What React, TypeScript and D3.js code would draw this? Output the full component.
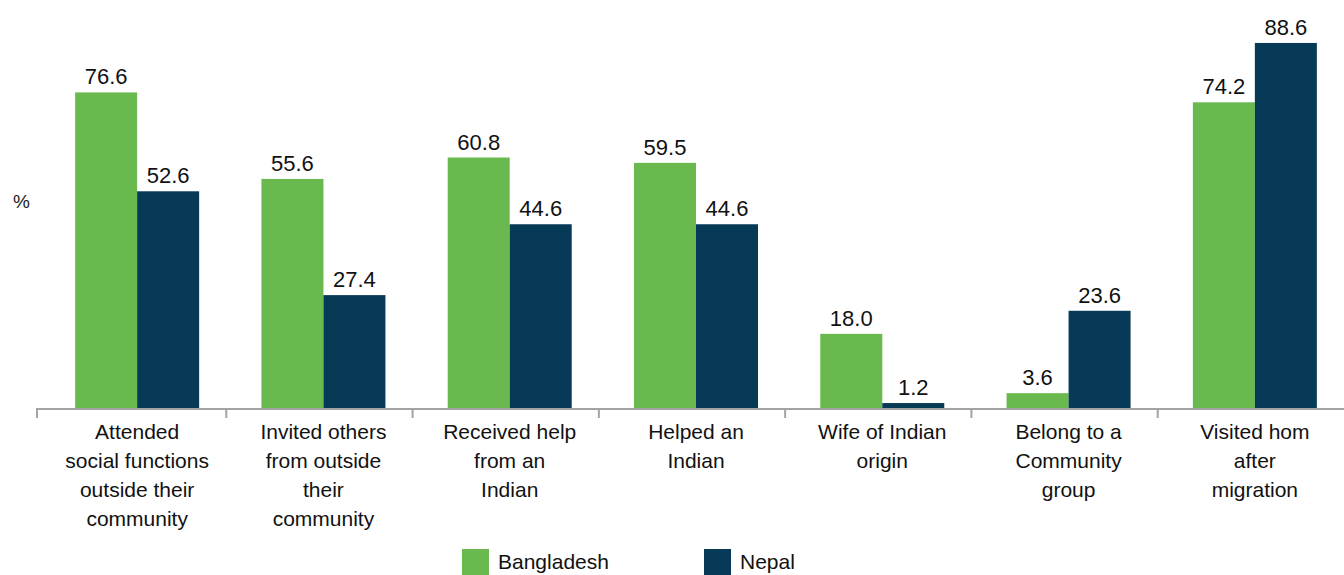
import React from "react";
import * as d3 from "d3";

const categories = [
  ["Attended", "social functions", "outside their", "community"],
  ["Invited others", "from outside", "their", "community"],
  ["Received help", "from an", "Indian"],
  ["Helped an", "Indian"],
  ["Wife of Indian", "origin"],
  ["Belong to a", "Community", "group"],
  ["Visited hom", "after", "migration"],
];
const seriesNames = ["Bangladesh", "Nepal"];
const bangladesh = [76.6, 55.6, 60.8, 59.5, 18.0, 3.6, 74.2];
const nepal = [52.6, 27.4, 44.6, 44.6, 1.2, 23.6, 88.6];
const colors = ["#6ab94f", "#063a57"];

const W = 1344;
const H = 575;
const FONT = "'Liberation Sans', Arial, sans-serif";

export default function App() {
  const idx = categories.map((_, i) => String(i));
  const x = d3.scaleBand<string>().domain(idx).range([44, 1348]);
  const inner = d3.scaleBand<string>().domain(seriesNames).range([0, 124]);
  const y = d3.scaleLinear().domain([0, 100]).range([408, -4]);
  const baseY = y(0);
  const seriesValues = [bangladesh, nepal];
  const axisStart = 36;

  return (
    <svg width={W} height={H} style={{ position: "absolute", left: 0, top: 0, background: "#fff" }}>
      <text x={13} y={208} fontFamily={FONT} fontSize={19} fill="#222">%</text>
      {idx.map((k, i) => {
        const cx = (x(k) as number) + x.bandwidth() / 2;
        const start = cx - 62;
        return (
          <g key={k}>
            {seriesNames.map((s, si) => {
              const v = seriesValues[si][i];
              const bx = start + (inner(s) as number);
              return (
                <g key={s}>
                  <rect x={bx} y={y(v)} width={inner.bandwidth()} height={baseY - y(v)} fill={colors[si]} />
                  <text x={bx + inner.bandwidth() / 2} y={y(v) - 8} textAnchor="middle" fontFamily={FONT} fontSize={22} fill="#111">
                    {v.toFixed(1)}
                  </text>
                </g>
              );
            })}
            <text textAnchor="middle" fontFamily={FONT} fontSize={21} fill="#111">
              {categories[i].map((line, li) => (
                <tspan key={li} x={cx} y={439 + li * 29}>{line}</tspan>
              ))}
            </text>
          </g>
        );
      })}
      <line x1={axisStart} x2={W} y1={baseY + 1} y2={baseY + 1} stroke="#a3a3a3" strokeWidth={2} />
      {idx.map((k, i) => {
        const tx = i === 0 ? axisStart + 1 : (x(k) as number) - 4;
        return <line key={k} x1={tx} x2={tx} y1={baseY} y2={baseY + 10} stroke="#a3a3a3" strokeWidth={2} />;
      })}
      <g>
        <rect x={462} y={549} width={27} height={27} fill={colors[0]} />
        <text x={498} y={569} fontFamily={FONT} fontSize={21} fill="#111">{seriesNames[0]}</text>
        <rect x={704} y={549} width={27} height={27} fill={colors[1]} />
        <text x={740} y={569} fontFamily={FONT} fontSize={21} fill="#111">{seriesNames[1]}</text>
      </g>
    </svg>
  );
}
